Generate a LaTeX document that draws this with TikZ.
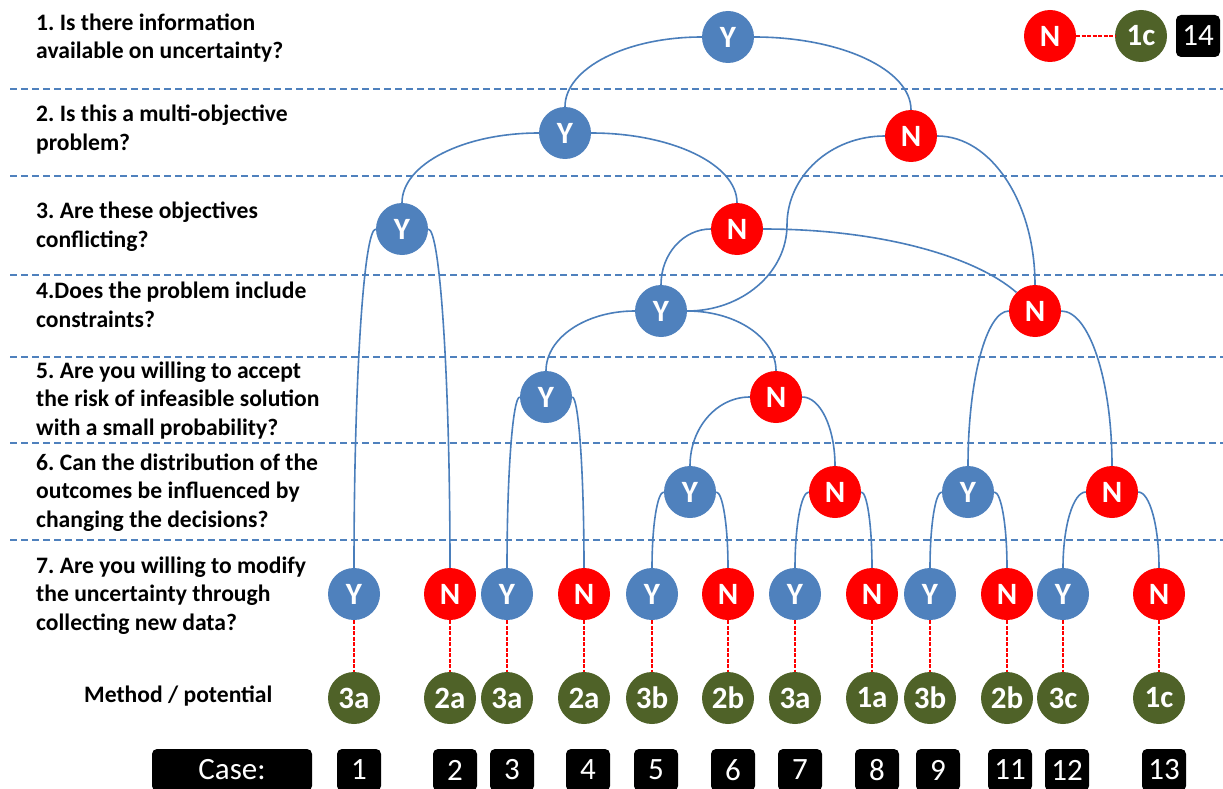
\documentclass[tikz,border=0pt]{standalone}
\usepackage{fontspec}
\setmainfont{Carlito}
\usetikzlibrary{calc}
\frenchspacing
\definecolor{nodeblue}{HTML}{4F81BD}
\definecolor{lineblue}{HTML}{4A7EBB}
\definecolor{nodered}{HTML}{FF0000}
\definecolor{olivegreen}{HTML}{4F6228}
\newcommand\qedge[2]{\path (#1 -| #2) coordinate (qc);
  \draw[edge] (#1) .. controls ($(#1)!0.552!(qc)$) and ($(#2)!0.552!(qc)$) .. (#2);}
\begin{document}
\begin{tikzpicture}[x=1pt,y=-1pt,
  disc/.style={circle, minimum size=52pt, inner sep=0pt, text=white, font=\fontsize{31}{31}\bfseries\selectfont},
  yes/.style={disc, fill=nodeblue},
  no/.style={disc, fill=nodered},
  meth/.style={disc, fill=olivegreen},
  casebox/.style={fill=black, rounded corners=5pt, text=white, minimum width=44pt, minimum height=42pt, inner sep=0pt, font=\fontsize{31}{31}\selectfont},
  question/.style={anchor=base west, align=left, inner sep=0pt, font=\fontsize{23.6}{28.3}\bfseries\selectfont\frenchspacing},
  edge/.style={draw=lineblue, line width=1.6pt},
  reddash/.style={draw=nodered, dash pattern=on 4pt off 1.5pt, line width=1.4pt},
  sep/.style={draw=nodeblue, dash pattern=on 7pt off 4pt, line width=1.8pt}]
\useasboundingbox (0,0) rectangle (1223,789);
\fill[white] (0,0) rectangle (1223,789);

% separators
\foreach \yy in {89,176,275,357,443,540}
  \draw[sep] (10,\yy) -- (1223,\yy);

% questions (anchored at the baseline of the last line)
\node[question] (t1) at (36,59) {1. Is there information\\available on uncertainty?};
\node[question] (t2) at (36,150) {2. Is this a multi-objective\\problem?};
\node[question] (t3) at (36,247) {3. Are these objectives\\conflicting?};
\node[question] (t4) at (36,327) {4.Does the problem include\\constraints?};
\node[question] (t5) at (36,435) {5. Are you willing to accept\\the risk of infeasible solution\\with a small probability?};
\node[question] (t6) at (36,527) {6. Can the distribution of the\\outcomes be influenced by\\changing the decisions?};
\node[question] (t7) at (36,630) {7. Are you willing to modify\\the uncertainty through\\collecting new data?};
\node[question] (tm) at (84,702) {Method / potential};

% tree nodes
\node[yes] (q1y) at (728,37) {Y};
\node[no] (tn) at (1050,36) {N};
\node[meth] (t1c) at (1141,36) {1c};
\node[casebox, minimum height=42pt] (t14) at (1198,36) {14};

\node[yes] (q2y) at (565,133) {Y};
\node[no] (q2n) at (911,136) {N};
\node[yes] (q3y) at (402,229) {Y};
\node[no] (q3n) at (737,229) {N};
\node[yes] (q4y) at (661,311) {Y};
\node[no] (q4n) at (1035,311) {N};
\node[yes] (q5y) at (546,397) {Y};
\node[no] (q5n) at (776,397) {N};
\node[yes] (q6a) at (690,492) {Y};
\node[no] (q6b) at (835,492) {N};
\node[yes] (q6c) at (968,492) {Y};
\node[no] (q6d) at (1112,492) {N};

\foreach \i/\xx/\st/\lab/\mlab/\cx/\cnum in {
  1/354/yes/Y/3a/359/1, 2/450/no/N/2a/455/2, 3/507/yes/Y/3a/512/3,
  4/584/no/N/2a/588/4, 5/652/yes/Y/3b/656/5, 6/728/no/N/2b/733/6,
  7/795/yes/Y/3a/800/7, 8/872/no/N/1a/877/8, 9/930/yes/Y/3b/938/9,
  10/1007/no/N/2b/1010/11, 11/1063/yes/Y/3c/1067/12, 12/1159/no/N/1c/1164/13}{
  \node[\st] (a\i) at (\xx,594) {\lab};
  \node[meth] (m\i) at (\xx,698) {\mlab};
  \node[casebox] (c\i) at (\cx,770) {\cnum};
  \draw[reddash] (a\i.south) -- (m\i.north);
}
\node[casebox, minimum width=160pt] (case) at (232,770) {Case:};

\draw[reddash] (tn.east) -- (t1c.west);

% connectors
\qedge{q1y.west}{q2y.north}
\qedge{q1y.east}{q2n.north}
\qedge{q2y.west}{q3y.north}
\qedge{q2y.east}{q3n.north}
\coordinate (mid) at (787,225);
\qedge{q2n.west}{mid}
\qedge{q4y.east}{mid}
\qedge{q2n.east}{q4n.north}
\draw[edge] (q3n.east) .. controls +(120,0) and +(-40,-35) .. (q4n.north west);
\qedge{q3n.west}{q4y.north}
\qedge{q3y.west}{a1.north}
\qedge{q3y.east}{a2.north}
\qedge{q4y.west}{q5y.north}
\qedge{q4y.east}{q5n.north}
\qedge{q4n.west}{q6c.north}
\qedge{q4n.east}{q6d.north}
\qedge{q5y.west}{a3.north}
\qedge{q5y.east}{a4.north}
\qedge{q5n.west}{q6a.north}
\qedge{q5n.east}{q6b.north}
\qedge{q6a.west}{a5.north}
\qedge{q6a.east}{a6.north}
\qedge{q6b.west}{a7.north}
\qedge{q6b.east}{a8.north}
\qedge{q6c.west}{a9.north}
\qedge{q6c.east}{a10.north}
\qedge{q6d.west}{a11.north}
\qedge{q6d.east}{a12.north}
\end{tikzpicture}
\end{document}
